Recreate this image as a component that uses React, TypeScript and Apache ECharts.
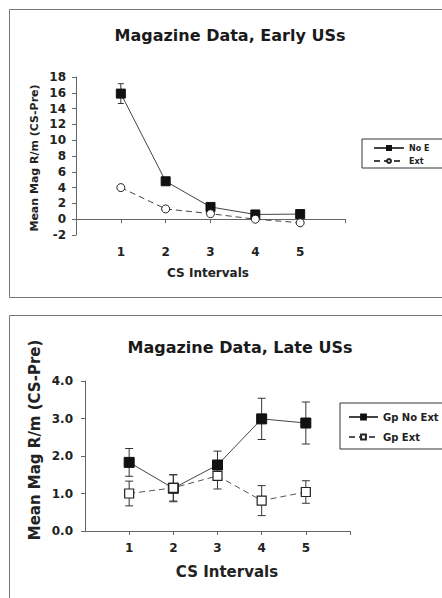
import React, { useEffect, useRef } from "react";
import * as echarts from "echarts";

const intervals = [1, 2, 3, 4, 5];

const earlyNoExt = [15.9, 4.8, 1.55, 0.6, 0.65];
const earlyNoExtErr = [1.25, 0.3, 0.25, 0.2, 0.2];
const earlyExt = [4.0, 1.3, 0.7, 0.0, -0.45];
const earlyExtErr = [0.3, 0.2, 0.2, 0.15, 0.15];

const lateNoExt = [1.83, 1.14, 1.76, 2.99, 2.88];
const lateNoExtErr = [0.37, 0.36, 0.37, 0.55, 0.56];
const lateExt = [1.0, 1.15, 1.47, 0.81, 1.04];
const lateExtErr = [0.33, 0.35, 0.35, 0.4, 0.3];

const earlyTitle = "Magazine Data, Early USs";
const lateTitle = "Magazine Data, Late USs";
const xName = "CS Intervals";
const yName = "Mean Mag R/m (CS-Pre)";
const earlyNames = ["No E", "Ext"];
const lateNames = ["Gp No Ext", "Gp Ext"];

const FONT = "DejaVu Sans";
const INK = "#222";
const AXIS = "#666";

function errorSeries(name: string, vals: number[], errs: number[], idx: number, cap: number) {
  return {
    type: "custom",
    name,
    xAxisIndex: idx,
    yAxisIndex: idx,
    z: 1,
    silent: true,
    encode: { x: 0, y: 1 },
    data: intervals.map((x, i) => [x, vals[i], errs[i]]),
    renderItem: (params: any, api: any) => {
      const x = api.value(0);
      const y = api.value(1);
      const e = api.value(2);
      const t = api.coord([x, y + e]);
      const b = api.coord([x, y - e]);
      const st = { stroke: "#333", lineWidth: 1 };
      return {
        type: "group",
        children: [
          { type: "line", shape: { x1: t[0], y1: t[1], x2: b[0], y2: b[1] }, style: st },
          { type: "line", shape: { x1: t[0] - cap, y1: t[1], x2: t[0] + cap, y2: t[1] }, style: st },
          { type: "line", shape: { x1: b[0] - cap, y1: b[1], x2: b[0] + cap, y2: b[1] }, style: st },
        ],
      };
    },
  };
}

export default function App() {
  const ref = useRef<HTMLDivElement>(null);
  useEffect(() => {
    if (!ref.current) return;
    const chart = echarts.init(ref.current, null, { renderer: "svg" });
    const xAxisCommon = (idx: number, labelSize: number, margin: number) => ({
      type: "value",
      gridIndex: idx,
      min: 0,
      max: 6,
      interval: 1,
      splitLine: { show: false },
      axisLine: { onZero: true, lineStyle: { color: AXIS, width: 1 } },
      axisTick: { show: true, length: 4, inside: false, customValues: [1, 2, 3, 4, 5, 6], lineStyle: { color: AXIS } },
      axisLabel: {
        customValues: intervals,
        margin,
        color: INK,
        fontFamily: FONT,
        fontWeight: "bold",
        fontSize: labelSize,
      },
    });
    const option: any = {
      animation: false,
      backgroundColor: "#fff",
      grid: [
        { left: 76, top: 77, width: 269, height: 158 },
        { left: 85, top: 381, width: 265, height: 150 },
      ],
      xAxis: [xAxisCommon(0, 12, 11), xAxisCommon(1, 12, 11)],
      yAxis: [
        {
          type: "value",
          gridIndex: 0,
          min: -2,
          max: 18,
          interval: 2,
          splitLine: { show: false },
          axisLine: { show: true, lineStyle: { color: AXIS } },
          axisTick: { show: true, length: 4, lineStyle: { color: AXIS } },
          axisLabel: { color: INK, fontFamily: FONT, fontWeight: "bold", fontSize: 12, margin: 10 },
        },
        {
          type: "value",
          gridIndex: 1,
          min: 0,
          max: 4,
          interval: 1,
          splitLine: { show: false },
          axisLine: { show: true, lineStyle: { color: AXIS } },
          axisTick: { show: true, length: 4, lineStyle: { color: AXIS } },
          axisLabel: {
            color: INK,
            fontFamily: FONT,
            fontWeight: "bold",
            fontSize: 12,
            margin: 12,
            formatter: (v: number) => v.toFixed(1),
          },
        },
      ],
      legend: [
        {
          left: 362,
          top: 139,
          orient: "vertical",
          data: earlyNames,
          borderColor: "#333",
          borderWidth: 1,
          padding: [5, 30, 3, 11],
          itemGap: 5,
          itemWidth: 30,
          itemHeight: 5,
          textStyle: { color: INK, fontFamily: FONT, fontWeight: "bold", fontSize: 8 },
          selectedMode: false,
        },
        {
          left: 340,
          top: 403,
          orient: "vertical",
          data: lateNames,
          borderColor: "#333",
          borderWidth: 1,
          padding: [9, 12, 7, 8],
          itemGap: 10,
          itemWidth: 29,
          itemHeight: 6,
          textStyle: { color: INK, fontFamily: FONT, fontWeight: "bold", fontSize: 10 },
          selectedMode: false,
        },
      ],
      graphic: [
        { type: "rect", shape: { x: 9.5, y: 9.5, width: 460, height: 288 }, style: { fill: "none", stroke: "#777", lineWidth: 1 }, z: -1 },
        { type: "rect", shape: { x: 9.5, y: 315.5, width: 460, height: 300 }, style: { fill: "none", stroke: "#777", lineWidth: 1 }, z: -1 },
        { type: "text", x: 230, y: 35, style: { text: earlyTitle, fill: "#1a1a1a", font: `bold 16px "${FONT}"`, textAlign: "center", textVerticalAlign: "middle" } },
        { type: "text", x: 240, y: 347, style: { text: lateTitle, fill: "#1a1a1a", font: `bold 16px "${FONT}"`, textAlign: "center", textVerticalAlign: "middle" } },
        { type: "text", x: 208, y: 273, style: { text: xName, fill: INK, font: `bold 12px "${FONT}"`, textAlign: "center", textVerticalAlign: "middle" } },
        { type: "text", x: 227, y: 572, style: { text: xName, fill: INK, font: `bold 15px "${FONT}"`, textAlign: "center", textVerticalAlign: "middle" } },
        { type: "text", x: 34, y: 158, rotation: Math.PI / 2, style: { text: yName, fill: INK, font: `bold 11px "${FONT}"`, textAlign: "center", textVerticalAlign: "middle" } },
        { type: "text", x: 35, y: 440, rotation: Math.PI / 2, style: { text: yName, fill: INK, font: `bold 15px "${FONT}"`, textAlign: "center", textVerticalAlign: "middle" } },
      ],
      series: [
        errorSeries("errEarlyNoExt", earlyNoExt, earlyNoExtErr, 0, 3),
        errorSeries("errEarlyExt", earlyExt, earlyExtErr, 0, 3),
        errorSeries("errLateNoExt", lateNoExt, lateNoExtErr, 1, 4),
        errorSeries("errLateExt", lateExt, lateExtErr, 1, 4),
        {
          type: "line",
          name: earlyNames[0],
          xAxisIndex: 0,
          yAxisIndex: 0,
          z: 3,
          data: intervals.map((x, i) => [x, earlyNoExt[i]]),
          symbol: "rect",
          symbolSize: 9,
          lineStyle: { color: "#444", width: 1 },
          itemStyle: { color: "#111", borderColor: "#111", borderWidth: 1 },
        },
        {
          type: "line",
          name: earlyNames[1],
          xAxisIndex: 0,
          yAxisIndex: 0,
          z: 3,
          data: intervals.map((x, i) => [x, earlyExt[i]]),
          symbol: "circle",
          symbolSize: 8,
          lineStyle: { color: "#444", width: 1, type: [6, 4] },
          itemStyle: { color: "#fff", borderColor: "#222", borderWidth: 1 },
        },
        {
          type: "line",
          name: lateNames[0],
          xAxisIndex: 1,
          yAxisIndex: 1,
          z: 3,
          data: intervals.map((x, i) => [x, lateNoExt[i]]),
          symbol: "rect",
          symbolSize: 10,
          lineStyle: { color: "#444", width: 1 },
          itemStyle: { color: "#111", borderColor: "#111", borderWidth: 1 },
        },
        {
          type: "line",
          name: lateNames[1],
          xAxisIndex: 1,
          yAxisIndex: 1,
          z: 3,
          data: intervals.map((x, i) => [x, lateExt[i]]),
          symbol: "rect",
          symbolSize: 9,
          lineStyle: { color: "#555", width: 1, type: [6, 4] },
          itemStyle: { color: "#fff", borderColor: "#222", borderWidth: 1.2 },
        },
      ],
    };
    chart.setOption(option);
    return () => chart.dispose();
  }, []);
  return <div ref={ref} style={{ position: "fixed", left: 0, top: 0, width: 442, height: 598 }} />;
}
